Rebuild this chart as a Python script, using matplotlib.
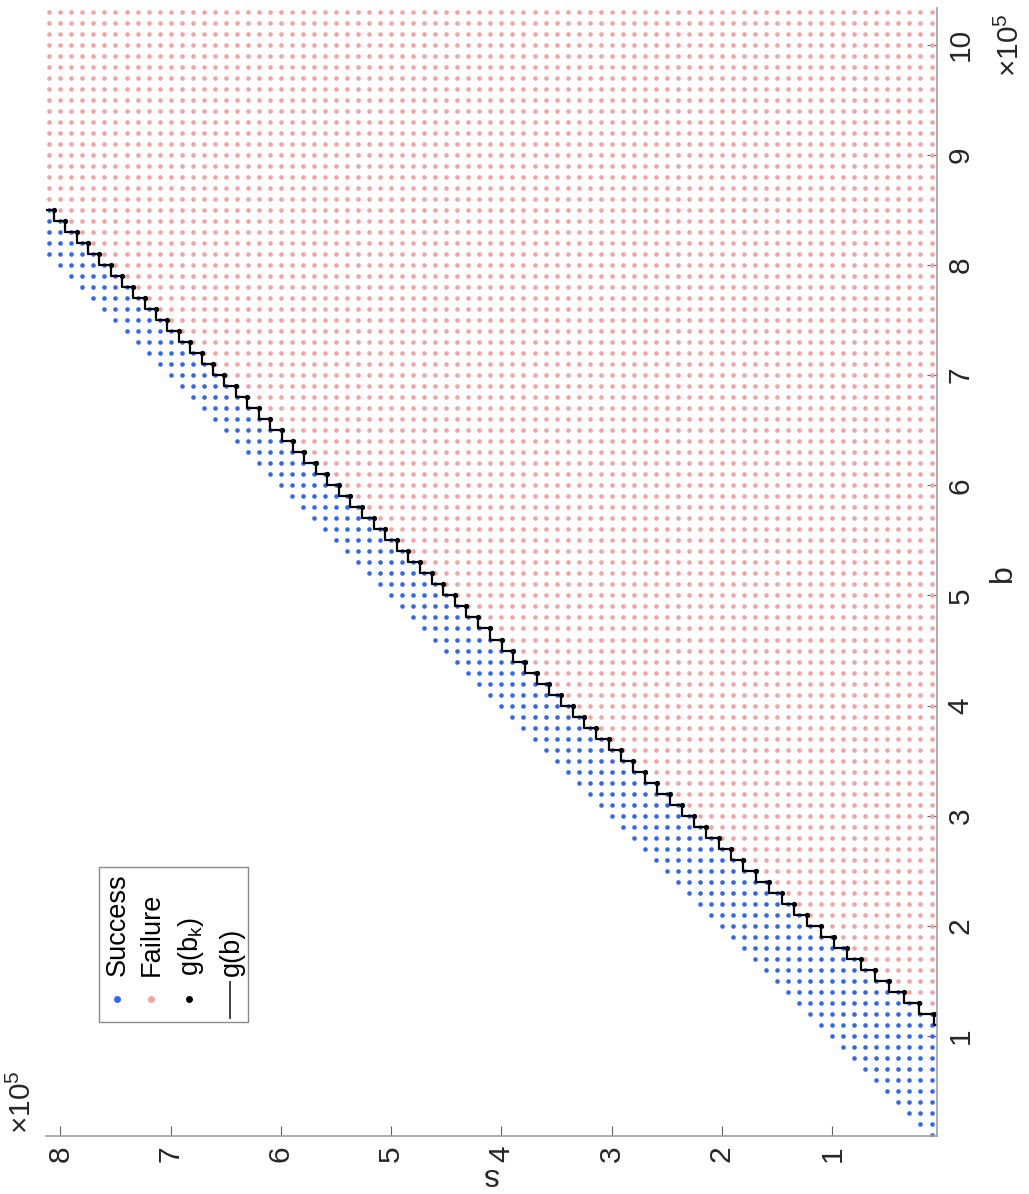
import numpy as np
import matplotlib.pyplot as plt
from matplotlib.lines import Line2D
from matplotlib.patches import Rectangle

plt.rcParams['font.family'] = ['Liberation Sans', 'DejaVu Sans']
plt.rcParams['mathtext.default'] = 'regular'

# Tested grid (values in units of 1e5), step 1e4
b_grid = np.round(np.arange(1, 104) * 0.1, 1)   # b = 0.1 .. 10.3
s_grid = np.round(np.arange(1, 82) * 0.1, 1)    # s = 0.1 .. 8.1

# staircase g(b_k) (units of 1e5)
b_k = [1.1, 1.2, 1.3, 1.4, 1.5, 1.6, 1.7, 1.8, 1.9, 2.0,
       2.1, 2.2, 2.3, 2.4, 2.5, 2.6, 2.7, 2.8, 2.9, 3.0,
       3.1, 3.2, 3.3, 3.4, 3.5, 3.6, 3.7, 3.8, 3.9, 4.0,
       4.1, 4.2, 4.3, 4.4, 4.5, 4.6, 4.7, 4.8, 4.9, 5.0,
       5.1, 5.2, 5.3, 5.4, 5.5, 5.6, 5.7, 5.8, 5.9, 6.0,
       6.1, 6.2, 6.3, 6.4, 6.5, 6.6, 6.7, 6.8, 6.9, 7.0,
       7.1, 7.2, 7.3, 7.4, 7.5, 7.6, 7.7, 7.8, 7.9, 8.0,
       8.1, 8.2, 8.3, 8.4, 8.5, 8.6]
g_k = [-0.058, 0.078, 0.214, 0.350, 0.482, 0.613, 0.740, 0.864, 0.986, 1.106,
       1.225, 1.343, 1.459, 1.575, 1.690, 1.805, 1.918, 2.031, 2.143, 2.254,
       2.364, 2.476, 2.588, 2.700, 2.811, 2.920, 3.029, 3.138, 3.247, 3.355,
       3.463, 3.571, 3.678, 3.785, 3.892, 3.999, 4.105, 4.211, 4.317, 4.423,
       4.529, 4.634, 4.740, 4.845, 4.950, 5.055, 5.160, 5.264, 5.369, 5.473,
       5.578, 5.682, 5.786, 5.890, 5.994, 6.098, 6.202, 6.305, 6.409, 6.512,
       6.616, 6.719, 6.823, 6.926, 7.029, 7.132, 7.235, 7.338, 7.441, 7.544,
       7.647, 7.750, 7.852, 7.955, 8.058, 8.160]

b_ticks = [1, 2, 3, 4, 5, 6, 7, 8, 9, 10]
s_ticks = [1, 2, 3, 4, 5, 6, 7, 8]

# split grid points into success / failure
g_lookup = dict(zip(b_k, g_k))
succ_s, succ_b, fail_s, fail_b = [], [], [], []
for b in b_grid:
    if b < b_k[0]:
        thr = -np.inf
    elif b > b_k[-1]:
        thr = np.inf
    else:
        thr = g_lookup[b]
    for s in s_grid:
        if s > b + 1e-9:
            continue
        if s >= thr:
            succ_s.append(s)
            succ_b.append(b)
        else:
            fail_s.append(s)
            fail_b.append(b)

W, H = 1029, 1194
fig = plt.figure(figsize=(W / 100, H / 100), dpi=100)
# chart is drawn turned by 90 degrees: s runs right-to-left, b runs upward
ax = fig.add_axes([46 / W, 1 - 1136 / H, (936.7 - 46) / W, (1136 - 8.3) / H])

blue = '#3166f0'
pink = '#f4a3a3'
ax.plot(succ_s, succ_b, ls='none', marker='o', ms=3.3, mew=0, color=blue)
ax.plot(fail_s, fail_b, ls='none', marker='o', ms=3.3, mew=0, color=pink)
ax.plot(g_k, b_k, color='black', lw=1.6, drawstyle='steps-post')
ax.plot(g_k, b_k, ls='none', marker='o', ms=3.8, mew=0, color='black')

ax.set_xlim(8.13, 0.053)
ax.set_ylim(0.093, 10.33)
ax.set_xticks(s_ticks)
ax.set_yticks(b_ticks)
ax.yaxis.tick_right()
for side in ['left', 'top']:
    ax.spines[side].set_visible(False)
for side in ['bottom', 'right']:
    ax.spines[side].set_color('#a0a0a0')
    ax.spines[side].set_linewidth(1.2)
ax.tick_params(direction='in', length=7, width=0.8, color='#606060',
               labelsize=21.5, labelcolor='#262626', pad=7)
ax.tick_params(axis='x', labelrotation=90)
ax.tick_params(axis='y', labelrotation=90)
for lab in ax.get_yticklabels():
    lab.set_va('center')

def fx(x):
    return x / W

def fy(y):
    return 1 - y / H

fig.text(fx(1003), fy(573), 'b', rotation=90, fontsize=23, color='#262626',
         ha='center', va='center')
fig.text(fx(491), fy(1176), 's', rotation=180, fontsize=23, color='#262626',
         ha='center', va='center')
fig.text(fx(22), fy(1134), '×10$^{5}$', rotation=90, fontsize=21.5, color='#262626',
         ha='center', va='bottom')
fig.text(fx(1010), fy(77), '×10$^{5}$', rotation=90, fontsize=21.5, color='#262626',
         ha='center', va='bottom')

# legend, drawn by hand so it turns with the chart
fig.add_artist(Rectangle((fx(99), fy(1022)), (248 - 99) / W, (1022 - 867) / H,
                         transform=fig.transFigure, facecolor='white',
                         edgecolor='#8a8a8a', lw=1.0, zorder=5))
leg_labels = ['Success', 'Failure', 'g(b$_{k}$)', 'g(b)']
leg_x = [118, 152, 191, 232]
for lab, x in zip(leg_labels, leg_x):
    fig.text(fx(x), fy(976), lab, rotation=90, fontsize=19.5, color='black',
             ha='center', va='bottom', zorder=6)
fig.add_artist(Line2D([fx(117)], [fy(999)], ls='none', marker='o', ms=5, mew=0,
                      color=blue, transform=fig.transFigure, zorder=6))
fig.add_artist(Line2D([fx(151)], [fy(999)], ls='none', marker='o', ms=5, mew=0,
                      color=pink, transform=fig.transFigure, zorder=6))
fig.add_artist(Line2D([fx(189)], [fy(999)], ls='none', marker='o', ms=5, mew=0,
                      color='black', transform=fig.transFigure, zorder=6))
fig.add_artist(Line2D([fx(230), fx(230)], [fy(982), fy(1018)], color='#333333',
                      lw=1.3, transform=fig.transFigure, zorder=6))

fig.savefig('out.png', dpi=100)
